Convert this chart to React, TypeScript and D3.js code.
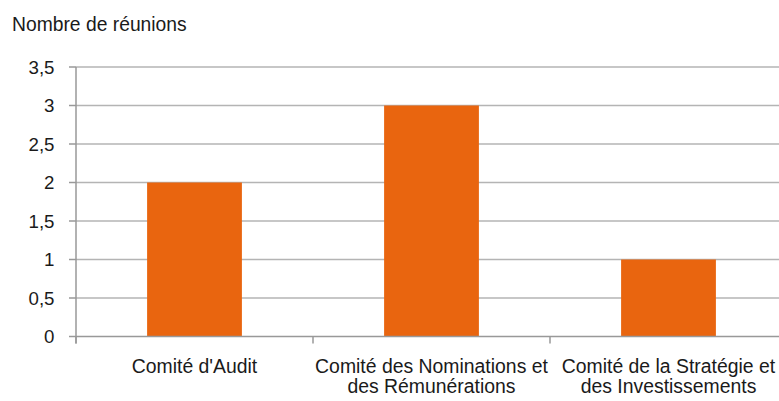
import React, { useEffect, useRef } from "react";
import * as d3 from "d3";

const categories = [
  ["Comité d'Audit"],
  ["Comité des Nominations et", "des Rémunérations"],
  ["Comité de la Stratégie et", "des Investissements"]
];
const meetings = [2, 3, 1];
const yTicks = [0, 0.5, 1, 1.5, 2, 2.5, 3, 3.5];
const yTitle = "Nombre de réunions";

const size = {
  width: 779,
  height: 401,
  left: 76,
  right: 787,
  top: 67,
  bottom: 336.5
};
const font = "'Liberation Sans', Arial, sans-serif";

const App = () => {
  const ref = useRef<SVGGElement>(null);

  useEffect(() => {
    const g = d3.select(ref.current);
    g.selectAll("*").remove();

    const keys = categories.map(c => c.join(" "));
    const x = d3
      .scaleBand()
      .domain(keys)
      .range([size.left, size.right])
      .paddingInner(0.6)
      .paddingOuter(0.3);
    const y = d3.scaleLinear().domain([0, 3.5]).range([size.bottom, size.top]);
    const fmt = (d: number) => String(d).replace(".", ",");

    // grid lines
    g.selectAll("line.grid")
      .data(yTicks.filter(d => d > 0))
      .enter()
      .append("line")
      .attr("class", "grid")
      .attr("x1", size.left)
      .attr("x2", size.width)
      .attr("y1", d => y(d))
      .attr("y2", d => y(d))
      .attr("stroke", "#b4b4b4")
      .attr("stroke-width", 1.5);

    // bars
    g.selectAll("rect.bar")
      .data(meetings)
      .enter()
      .append("rect")
      .attr("class", "bar")
      .attr("x", (d, i) => x(keys[i]) as number)
      .attr("width", x.bandwidth())
      .attr("y", d => y(d))
      .attr("height", d => y(0) - y(d))
      .attr("fill", "#e9650f");

    // x axis line + category separators
    g.append("line")
      .attr("x1", size.left)
      .attr("x2", size.width)
      .attr("y1", y(0))
      .attr("y2", y(0))
      .attr("stroke", "#999")
      .attr("stroke-width", 1.5);
    g.selectAll("line.xtick")
      .data(d3.range(keys.length + 1))
      .enter()
      .append("line")
      .attr("class", "xtick")
      .attr("x1", i => size.left + i * x.step())
      .attr("x2", i => size.left + i * x.step())
      .attr("y1", y(0))
      .attr("y2", y(0) + 7)
      .attr("stroke", "#999")
      .attr("stroke-width", 1.5);

    // y axis
    g.append("line")
      .attr("x1", size.left)
      .attr("x2", size.left)
      .attr("y1", size.top)
      .attr("y2", y(0) + 7)
      .attr("stroke", "#999")
      .attr("stroke-width", 1.5);
    const yt = g
      .selectAll("g.ytick")
      .data(yTicks)
      .enter()
      .append("g")
      .attr("class", "ytick")
      .attr("transform", d => `translate(0,${y(d)})`);
    yt.append("line")
      .attr("x1", size.left - 7)
      .attr("x2", size.left)
      .attr("stroke", "#999")
      .attr("stroke-width", 1.5);
    yt.append("text")
      .attr("x", 54.5)
      .attr("dy", "0.35em")
      .attr("text-anchor", "end")
      .style("font-family", font)
      .style("font-size", "18.7px")
      .style("fill", "#1a1a1a")
      .text(d => fmt(d));

    // category labels
    const labels = g
      .selectAll("text.cat")
      .data(categories)
      .enter()
      .append("text")
      .attr("class", "cat")
      .attr("text-anchor", "middle")
      .style("font-family", font)
      .style("font-size", "19.4px")
      .style("fill", "#1a1a1a");
    labels
      .selectAll("tspan")
      .data((d, i) => d.map(line => ({ line, key: keys[i] })))
      .enter()
      .append("tspan")
      .attr("x", d => (x(d.key) as number) + x.bandwidth() / 2)
      .attr("y", (d, j) => 373 + j * 20)
      .text(d => d.line);

    // title
    g.append("text")
      .attr("x", 12)
      .attr("y", 31)
      .style("font-family", font)
      .style("font-size", "19.3px")
      .style("fill", "#1a1a1a")
      .text(yTitle);
  }, []);

  return (
    <svg
      width={size.width}
      height={size.height}
      style={{ position: "absolute", left: 0, top: 0, background: "#fff" }}
    >
      <g ref={ref} />
    </svg>
  );
};

export default App;
